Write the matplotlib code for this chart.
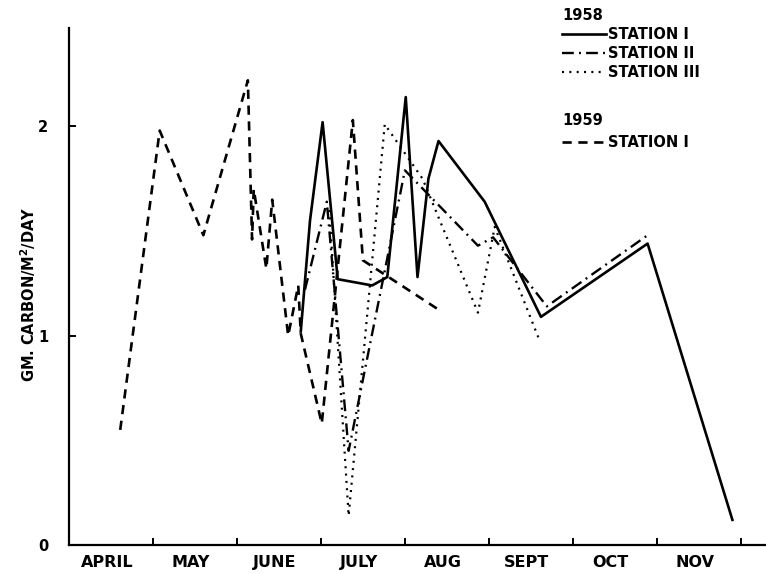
import matplotlib
matplotlib.use("Agg")
from matplotlib import pyplot as plt

# x in months since April 1, y in gm carbon / m2 / day
st1_1959_x = [0.61, 1.08, 1.60, 2.13, 2.18, 2.20, 2.35, 2.42, 2.61, 2.73, 2.76, 3.01, 3.38, 3.50, 4.38]
st1_1959_y = [0.55, 1.98, 1.48, 2.22, 1.46, 1.70, 1.32, 1.65, 1.00, 1.24, 1.01, 0.58, 2.03, 1.36, 1.13]

st1_1958_x = [2.76, 2.87, 3.02, 3.20, 3.61, 3.79, 4.01, 4.15, 4.28, 4.40, 4.95, 5.62, 6.89, 7.90]
st1_1958_y = [1.02, 1.55, 2.02, 1.27, 1.24, 1.28, 2.14, 1.28, 1.75, 1.93, 1.64, 1.09, 1.44, 0.12]

st2_1958_x = [2.81, 3.07, 3.33, 4.00, 4.87, 5.05, 5.69, 6.89]
st2_1958_y = [1.22, 1.64, 0.45, 1.79, 1.43, 1.47, 1.14, 1.48]

st3_1958_x = [3.10, 3.33, 3.76, 4.21, 4.87, 5.07, 5.61]
st3_1958_y = [1.60, 0.14, 2.01, 1.75, 1.11, 1.52, 0.97]

months = ["APRIL", "MAY", "JUNE", "JULY", "AUG", "SEPT", "OCT", "NOV"]

plt.rcParams["font.family"] = "DejaVu Sans"
plt.rcParams["font.weight"] = "bold"

fig = plt.figure(figsize=(7.66, 5.74), dpi=100)
ax = fig.add_axes([69 / 766, 29 / 574, 697 / 766, 517 / 574])

l1, = ax.plot(st1_1958_x, st1_1958_y, color="black", lw=1.9, ls="-", label="STATION I")
l2, = ax.plot(st2_1958_x, st2_1958_y, color="black", lw=1.7, ls=(0, (5, 2.2, 0.8, 2.2)), label="STATION II")
l3, = ax.plot(st3_1958_x, st3_1958_y, color="black", lw=1.6, ls=(0, (0.9, 2.4)), label="STATION III")
l4, = ax.plot(st1_1959_x, st1_1959_y, color="black", lw=1.9, ls=(0, (3.5, 2.5)), label="STATION I")

ax.set_xlim(0, 8.30)
ax.set_ylim(0, 2.47)

for s in ["top", "right"]:
    ax.spines[s].set_visible(False)
for s in ["left", "bottom"]:
    ax.spines[s].set_linewidth(1.6)

ax.set_xticks(range(1, 9))
ax.set_xticklabels([])
ax.set_xticks([i + 0.45 for i in range(len(months))], minor=True)
ax.set_xticklabels(months, minor=True, fontsize=11.5, fontweight="bold")
ax.tick_params(axis="x", which="major", direction="in", length=5, width=1.4)
ax.tick_params(axis="x", which="minor", length=0, pad=7)

ax.set_yticks([0, 1, 2])
ax.set_yticklabels(["0", "1", "2"], fontsize=10.5, fontweight="bold")
ax.tick_params(axis="y", direction="in", length=5, width=1.4, pad=15)

ax.set_ylabel("GM. CARBON/M$^2$/DAY", fontsize=10.5, fontweight="bold")
ax.yaxis.set_label_coords(-0.045, 0.484)

leg1 = ax.legend(handles=[l1, l2, l3], title="1958", loc="upper left",
                 bbox_to_anchor=(562 / 766, 1 - 8 / 574), bbox_transform=fig.transFigure,
                 frameon=False, borderpad=0, borderaxespad=0, handlelength=3.0,
                 handletextpad=0.15, labelspacing=0.28, alignment="left",
                 prop={"size": 10.5, "weight": "bold"},
                 title_fontproperties={"size": 10.5, "weight": "bold"})
ax.add_artist(leg1)
ax.legend(handles=[l4], title="1959", loc="upper left",
          bbox_to_anchor=(562 / 766, 1 - 113 / 574), bbox_transform=fig.transFigure,
          frameon=False, borderpad=0, borderaxespad=0, handlelength=3.0,
          handletextpad=0.15, alignment="left",
          prop={"size": 10.5, "weight": "bold"},
          title_fontproperties={"size": 10.5, "weight": "bold"})

plt.savefig("out.png", dpi=100)
